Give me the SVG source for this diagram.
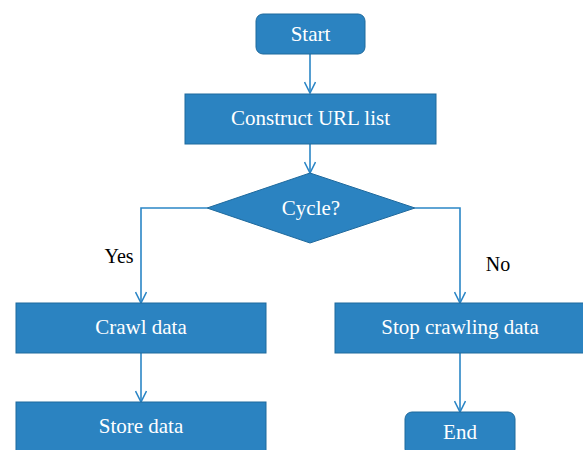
<svg xmlns="http://www.w3.org/2000/svg" width="583" height="450" viewBox="0 0 583 450">
<style>
.box{fill:#2b83c1;stroke:#1f6a9d;stroke-width:1}
.t{font-family:"Liberation Serif",serif;font-size:21px;fill:#ffffff;text-anchor:middle}
.lbl{font-family:"Liberation Serif",serif;font-size:20px;fill:#000000;text-anchor:middle}
.c{fill:none;stroke:#2b86c6;stroke-width:1.6}
</style>
<defs>
<marker id="arr" markerWidth="14" markerHeight="12" refX="12" refY="6" orient="auto" markerUnits="userSpaceOnUse" viewBox="0 0 14 12">
<path d="M1,0.5 L12,6 L1,11.5" fill="none" stroke="#2b86c6" stroke-width="1.6"/>
</marker>
</defs>
<rect width="583" height="450" fill="#ffffff"/>
<g id="connectors">
<path class="c" d="M310,54 V93" marker-end="url(#arr)"/>
<path class="c" d="M310,144 V173" marker-end="url(#arr)"/>
<path class="c" d="M207,208 H141 V303" marker-end="url(#arr)"/>
<path class="c" d="M415,208 H460 V303" marker-end="url(#arr)"/>
<path class="c" d="M141,353 V402" marker-end="url(#arr)"/>
<path class="c" d="M460,353 V412" marker-end="url(#arr)"/>
</g>
<g id="start"><rect class="box" x="256" y="14" width="109" height="40" rx="7"/><text class="t" x="310.5" y="41">Start</text></g>
<g id="construct"><rect class="box" x="185" y="94" width="251" height="50"/><text class="t" x="310.5" y="125">Construct URL list</text></g>
<g id="cycle"><polygon class="box" points="310,173 415,208 310,243 207,208"/><text class="t" x="311" y="215">Cycle?</text></g>
<g id="crawl"><rect class="box" x="16" y="303" width="250" height="50"/><text class="t" x="141" y="334">Crawl data</text></g>
<g id="stop"><rect class="box" x="335" y="303" width="250" height="50"/><text class="t" x="460" y="334">Stop crawling data</text></g>
<g id="store"><rect class="box" x="16" y="402" width="250" height="52"/><text class="t" x="141" y="433">Store data</text></g>
<g id="end"><rect class="box" x="405" y="412" width="110" height="44" rx="7"/><text class="t" x="460" y="439">End</text></g>
<text class="lbl" x="119" y="263">Yes</text>
<text class="lbl" x="498" y="271">No</text>
</svg>
